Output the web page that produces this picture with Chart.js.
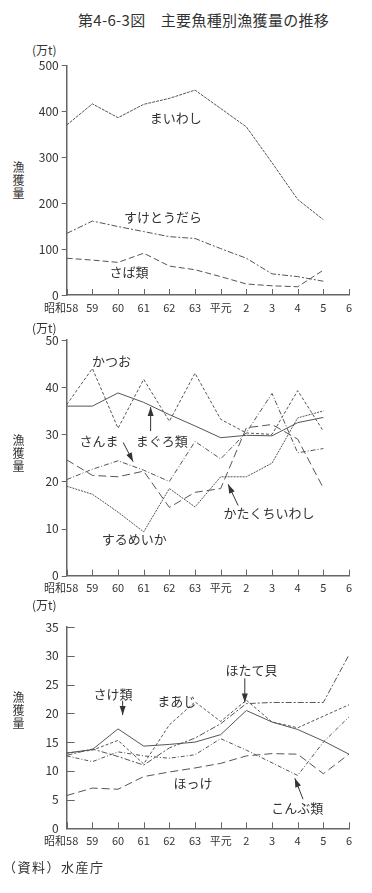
<!DOCTYPE html>
<html>
<head>
<meta charset="utf-8">
<script src="https://cdn.jsdelivr.net/npm/chart.js@4"></script>
<style>
  body { margin: 0; background: #fff; font-family: 'Noto Sans CJK JP', sans-serif; color: #333; }
  #page { position: relative; width: 372px; height: 893px; overflow: hidden; }
  .box { position: absolute; left: 0; width: 372px; }
  .txt { position: absolute; font-size: 12px; white-space: nowrap; line-height: 1; }
  .vert { position: absolute; font-size: 12px; width: 13px; line-height: 13px; text-align: center; }
</style>
</head>
<body>
<div id="page">
  <div class="txt" style="left:78px;top:12px;font-size:15px;letter-spacing:0.3px;">第4-6-3図　主要魚種別漁獲量の推移</div>

  <div class="txt" style="left:32px;top:44px;">(万t)</div>
  <div class="vert" style="left:12px;top:160px;">漁獲量</div>
  <div class="box" style="top:40px;height:290px;"><canvas id="c1"></canvas></div>

  <div class="txt" style="left:32px;top:322px;">(万t)</div>
  <div class="vert" style="left:12px;top:433px;">漁獲量</div>
  <div class="box" style="top:325px;height:285px;"><canvas id="c2"></canvas></div>

  <div class="txt" style="left:32px;top:599px;">(万t)</div>
  <div class="vert" style="left:12px;top:690px;">漁獲量</div>
  <div class="box" style="top:612px;height:248px;"><canvas id="c3"></canvas></div>

  <div class="txt" style="left:3px;top:860px;font-size:13px;letter-spacing:1.5px;">（資料）水産庁</div>
</div>
<script>
// 年（昭和58〜平成6）
var years = ['昭和58', '59', '60', '61', '62', '63', '平元', '2', '3', '4', '5', '6'];

// 上段（万t）
var maiwashi = [370, 416, 386, 415, 428, 446, 406, 366, 288, 208, 164, null];
var suketoudara = [134, 161, 149, 138, 127, 123, 101, 80, 46, 40, 30, null];
var sabarui = [80, 76, 71, 91, 63, 55, 40, 24, 20, 18, 54, null];

// 中段
var katsuo = [36.3, 44, 31.3, 41.7, 32.8, 43, 33.2, 30.3, 30, 39.3, 30.7, null];
var maguro = [36, 36, 38.8, 36.8, 34.2, 31.8, 29.3, 29.8, 29.7, 32.5, 33.6, null];
var sanma = [20.4, 22.6, 24.4, 22.4, 20, 28.5, 24.8, 30.4, 38.7, 26.1, 27, null];
var katakuchi = [24.6, 21.3, 21, 22.2, 14.5, 17.7, 18.5, 31.4, 32.1, 29, 18.6, null];
var surume = [19, 17.3, 13.5, 9.3, 18.5, 14.6, 21, 21, 23.9, 33.5, 35, null];

// 下段
var sake = [13.1, 13.7, 17.3, 14.3, 14.6, 15.0, 16.3, 20.5, 18.5, 17.2, 15.2, 12.9];
var maaji = [13.1, 13.6, 15.3, 11.2, 18.0, 22.0, 18.6, 22.3, 18.5, 17.5, 19.5, 21.5];
var hotate = [12.7, 13.8, 12.5, 11.0, 14.0, 15.7, 18.2, 21.7, 21.9, 21.9, 21.9, 30.2];
var hokke = [5.7, 7.0, 6.8, 9.0, 9.8, 10.5, 11.3, 12.6, 13.0, 12.9, 9.5, 12.9];
var konbu = [12.6, 11.6, 13.3, 12.6, 12.2, 12.8, 15.6, 13.6, 11.4, 9.2, 15.0, 19.4];

var FONT = "'Noto Sans CJK JP', sans-serif";
var LINE = '#555';
var AXIS = '#666';

function ds(label, data, dash) {
  return { label: label, data: data, borderColor: LINE, borderWidth: 1, borderDash: dash,
    pointRadius: 0, tension: 0, fill: false, spanGaps: false };
}

// 注記（ラベルと矢印）と目盛りをデータ座標で描く
var notes = {
  id: 'notes',
  afterDatasetsDraw: function (chart, args, opts) {
    var ctx = chart.ctx, xs = chart.scales.x, ys = chart.scales.y;
    var a = chart.chartArea;
    ctx.save();
    ctx.strokeStyle = AXIS;
    ctx.lineWidth = 1;
    for (var i = 0; i < years.length; i++) {
      var px = Math.round(xs.getPixelForValue(i)) + 0.5;
      ctx.beginPath(); ctx.moveTo(px, a.bottom); ctx.lineTo(px, a.bottom - 6); ctx.stroke();
    }
    ys.ticks.forEach(function (t) {
      var py = Math.round(ys.getPixelForValue(t.value)) + 0.5;
      ctx.beginPath();
      if (opts.inside) { ctx.moveTo(a.left, py); ctx.lineTo(a.left + 8, py); }
      else { ctx.moveTo(a.left - 5, py); ctx.lineTo(a.left, py); }
      ctx.stroke();
    });
    ctx.fillStyle = '#333';
    ctx.font = '13px ' + FONT;
    ctx.textAlign = 'center';
    ctx.textBaseline = 'middle';
    (opts.labels || []).forEach(function (l) {
      ctx.fillText(l[0], xs.getPixelForValue(l[1]), ys.getPixelForValue(l[2]));
    });
    (opts.arrows || []).forEach(function (r) {
      var x1 = xs.getPixelForValue(r[0]), y1 = ys.getPixelForValue(r[1]);
      var x2 = xs.getPixelForValue(r[2]), y2 = ys.getPixelForValue(r[3]);
      var ang = Math.atan2(y2 - y1, x2 - x1);
      ctx.strokeStyle = '#333';
      ctx.beginPath(); ctx.moveTo(x1, y1); ctx.lineTo(x2, y2); ctx.stroke();
      ctx.beginPath();
      ctx.moveTo(x2, y2);
      ctx.lineTo(x2 - 9 * Math.cos(ang) + 3 * Math.sin(ang), y2 - 9 * Math.sin(ang) - 3 * Math.cos(ang));
      ctx.lineTo(x2 - 9 * Math.cos(ang) - 3 * Math.sin(ang), y2 - 9 * Math.sin(ang) + 3 * Math.cos(ang));
      ctx.closePath(); ctx.fill();
    });
    ctx.restore();
  }
};

function makeChart(id, sets, max, step, padTop, xHeight, noteOpts) {
  return new Chart(document.getElementById(id), {
    type: 'line',
    data: { labels: years, datasets: sets },
    plugins: [notes],
    options: {
      responsive: true,
      maintainAspectRatio: false,
      animation: false,
      layout: { padding: { top: padTop, right: 23, left: 0, bottom: 0 } },
      plugins: { legend: { display: false }, tooltip: { enabled: false }, notes: noteOpts },
      scales: {
        x: {
          grid: { display: false, drawTicks: false },
          border: { display: true, color: AXIS, width: 1.5 },
          ticks: { color: '#333', font: { family: FONT, size: 11 }, padding: 6,
            autoSkip: false, maxRotation: 0, minRotation: 0,
            // 先頭の「昭和58」は左寄せ気味に置かれている
            callback: function (v, i) { return i === 0 ? years[0] + '\u2003' : years[i]; } },
          afterFit: function (s) { s.height = xHeight; }
        },
        y: {
          min: 0, max: max,
          grid: { display: false, drawTicks: false },
          border: { display: true, color: AXIS, width: 1.5 },
          ticks: { stepSize: step, color: '#333', font: { family: FONT, size: 12 }, padding: 8 },
          afterFit: function (s) { s.width = 66.7; }
        }
      }
    }
  });
}

makeChart('c1', [
  ds('まいわし', maiwashi, [3, 1]),
  ds('すけとうだら', suketoudara, [6, 2, 2, 2]),
  ds('さば類', sabarui, [6, 3])
], 500, 100, 25.3, 35, {
  inside: false,
  labels: [['まいわし', 4.25, 386], ['すけとうだら', 3.75, 170], ['さば類', 2.43, 50]]
});

makeChart('c2', [
  ds('かつお', katsuo, [3, 2]),
  ds('まぐろ類', maguro, []),
  ds('さんま', sanma, [5, 2, 1, 2]),
  ds('かたくちいわし', katakuchi, [8, 4]),
  ds('するめいか', surume, [2, 1])
], 50, 10, 8.3, 34.3, {
  inside: false,
  labels: [['かつお', 1.75, 45.5], ['さんま', 1.26, 28.6], ['まぐろ類', 3.7, 28.6],
    ['かたくちいわし', 7.88, 13.2], ['するめいか', 2.63, 7.7]],
  arrows: [[3.27, 30.7, 3.27, 35.8], [2.2, 28.3, 2.59, 24.2], [6.68, 14.9, 6.29, 19.4]]
});

makeChart('c3', [
  ds('さけ類', sake, []),
  ds('まあじ', maaji, [3, 2]),
  ds('ほたて貝', hotate, [6, 2, 2, 2]),
  ds('ほっけ', hokke, [8, 4]),
  ds('こんぶ類', konbu, [4, 2, 1, 2])
], 35, 5, 8.7, 31.7, {
  inside: true,
  labels: [['さけ類', 1.8, 23.3], ['まあじ', 4.29, 22.2], ['ほたて貝', 7.2, 27.5],
    ['ほっけ', 4.92, 7.85], ['こんぶ類', 8.98, 3.6]],
  arrows: [[2.18, 22.2, 2.18, 19.7], [6.94, 26.1, 6.94, 21.9], [9.21, 5.06, 8.89, 8.7]]
});
</script>
</body>
</html>
